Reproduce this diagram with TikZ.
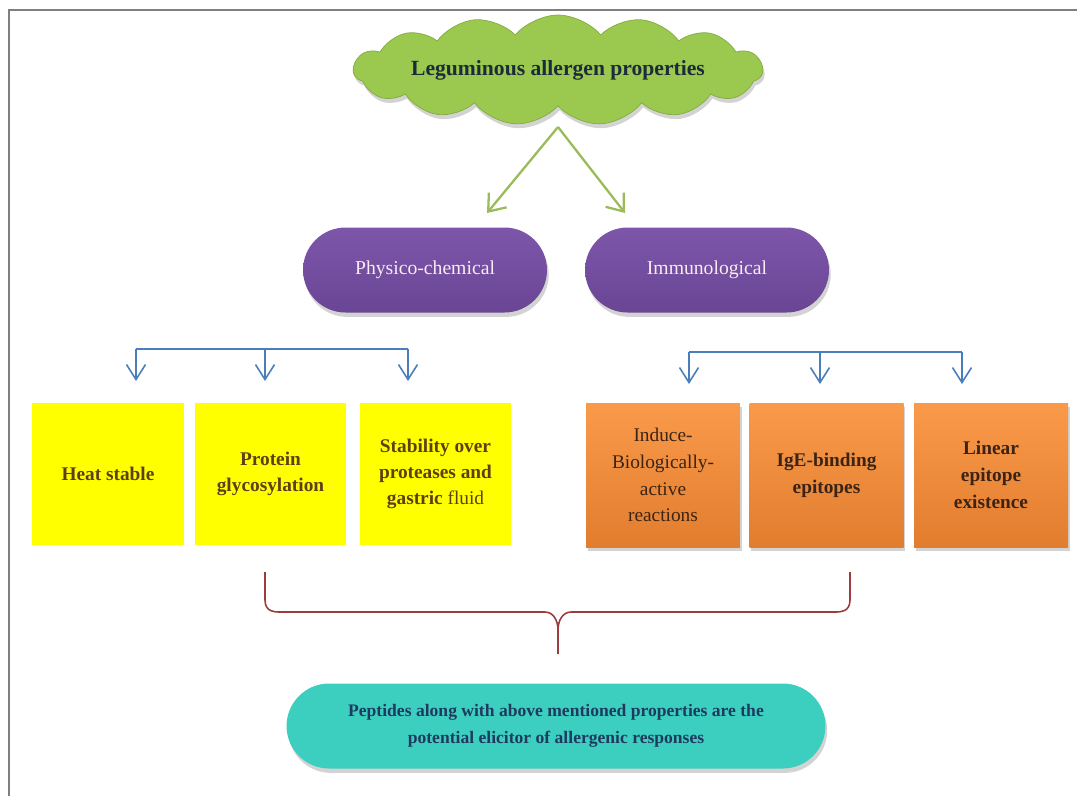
\documentclass[tikz,border=0pt]{standalone}
\usepackage{fontspec}
\setmainfont{Liberation Serif}
\usetikzlibrary{shapes.symbols,shadows,arrows.meta}
\definecolor{cloudgreen}{HTML}{9BC84E}
\definecolor{cloudtext}{HTML}{1C2B3A}
\definecolor{arrowgreen}{HTML}{9BBB59}
\definecolor{purpletop}{HTML}{7D56AA}
\definecolor{purplebot}{HTML}{6A4594}
\definecolor{barblue}{HTML}{4A7EBB}
\definecolor{boxyellow}{HTML}{FFFF00}
\definecolor{yellowtext}{HTML}{5C4012}
\definecolor{orangetop}{HTML}{F99A4A}
\definecolor{orangebot}{HTML}{E27D2E}
\definecolor{orangetext}{HTML}{3B2416}
\definecolor{bracered}{HTML}{9C3C3C}
\definecolor{teal}{HTML}{3CCFC0}
\definecolor{tealtext}{HTML}{1F3A5F}
\definecolor{framegray}{HTML}{7F7F7F}
\begin{document}
\begin{tikzpicture}[x=0.02cm,y=-0.02cm,
	every node/.style={align=center},
	shade/.style={drop shadow={shadow xshift=1pt,shadow yshift=-2.5pt,opacity=0.35}},
	cloudnode/.style={cloud,cloud puffs=15,cloud puff arc=100,cloud ignores aspect,inner sep=0pt,minimum width=6.3cm,minimum height=2.2cm,fill=cloudgreen,draw=cloudgreen!85!black,shade,text=cloudtext,font=\bfseries\fontsize{12.3}{14}\selectfont},
	pill/.style={rounded corners=0.85cm,minimum width=4.88cm,minimum height=1.7cm,top color=purpletop,bottom color=purplebot,shade,text=white!92!purple,font=\fontsize{11.2}{14}\selectfont},
	yellowbox/.style={minimum width=3.04cm,minimum height=2.84cm,fill=boxyellow,text=yellowtext,font=\bfseries\fontsize{11}{15}\selectfont},
	orangebox/.style={minimum width=3.08cm,minimum height=2.88cm,top color=orangetop,bottom color=orangebot,shade,text=orangetext,font=\fontsize{11}{15.3}\selectfont},
	greenarrow/.style={draw=arrowgreen,line width=1.3pt,-{Straight Barb[length=3mm,width=4.6mm]}},
	bluebar/.style={draw=barblue,line width=0.9pt},
	bluearrow/.style={bluebar,-{Straight Barb[length=3mm,width=3.8mm]}},
	brace/.style={draw=bracered,line width=0.9pt}]
	\useasboundingbox (0,0) rectangle (1077,796);
	\draw[framegray,line width=1.2pt] (9,796) -- (9,10) -- (1077,10);
	\node[cloudnode] (root) at (558,70) {Leguminous allergen properties};
	\node[pill] (phys) at (425,270) {Physico-chemical};
	\node[pill] (immu) at (707,270) {Immunological};
	\coordinate (rootfoot) at (558,127);
	\coordinate (physend) at (487,213);
	\coordinate (immuend) at (625,213);
	\draw[greenarrow] (rootfoot) -- (physend);
	\draw[greenarrow] (rootfoot) -- (immuend);
	\node[yellowbox] (heat) at (108,474) {Heat stable};
	\node[yellowbox] (glyco) at (270.5,474) {Protein\\glycosylation};
	\node[yellowbox] (stab) at (435.5,474) {Stability over\\proteases and\\gastric \textmd{fluid}};
	\node[orangebox] (induce) at (663,475) {Induce-\\Biologically-\\active\\reactions};
	\node[orangebox,font=\bfseries\fontsize{11}{15.3}\selectfont] (ige) at (826.5,475) {IgE-binding\\epitopes};
	\node[orangebox,font=\bfseries\fontsize{11}{15.3}\selectfont] (linear) at (991,475) {Linear\\epitope\\existence};
	\draw[bluebar] (136,349) -- (408,349);
	\foreach \x in {136,265,408}
		\draw[bluearrow] (\x,349) -- (\x,381);
	\draw[bluebar] (689,352) -- (962,352);
	\foreach \x in {689,820,962}
		\draw[bluearrow] (\x,352) -- (\x,384);
	\node[rounded corners=0.85cm,minimum width=10.78cm,minimum height=1.7cm,fill=teal,shade,text=tealtext,font=\bfseries\fontsize{10}{15.3}\selectfont] (peptides) at (556,726) {Peptides along with above mentioned properties are the\\potential elicitor of allergenic responses};
	\coordinate (braceleft) at (265,572);
	\coordinate (braceright) at (850,572);
	\coordinate (bracetip) at (558,654);
	\draw[brace] (braceleft) -- ++(0,28) .. controls +(0,12) and +(-4,0) .. ++(14,12) -- (545,612) .. controls +(8,0) and +(0,-10) .. (bracetip |- 0,630) -- (bracetip);
	\draw[brace] (braceright) -- ++(0,28) .. controls +(0,12) and +(4,0) .. ++(-14,12) -- (571,612) .. controls +(-8,0) and +(0,-10) .. (bracetip |- 0,630);
\end{tikzpicture}
\end{document}
